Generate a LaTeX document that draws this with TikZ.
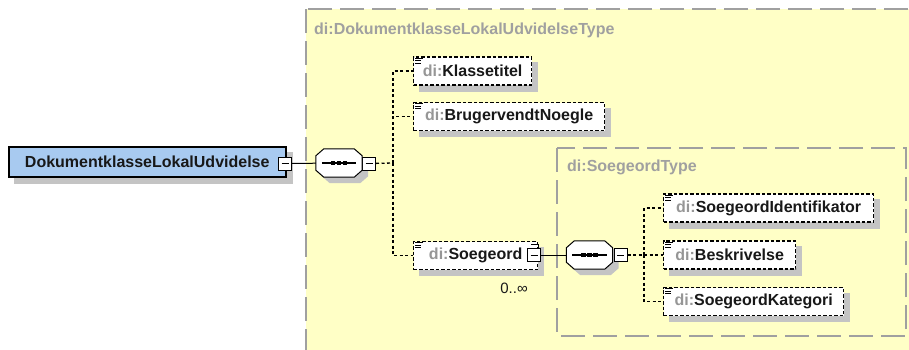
\documentclass[tikz,border=0pt]{standalone}
\usepackage{fontspec}
\setmainfont{Liberation Sans}
\usetikzlibrary{
    positioning
}
\pgfdeclarelayer{bg}
\pgfdeclarelayer{shade}
\pgfsetlayers{bg,shade,main}
\definecolor{typebg}{RGB}{255,255,198}
\definecolor{typegray}{RGB}{160,160,160}
\definecolor{rootblue}{RGB}{168,202,240}
\definecolor{shadowgray}{RGB}{196,196,196}
\definecolor{prefixgray}{RGB}{150,150,150}
\definecolor{namedark}{RGB}{24,24,24}
\newcommand{\pre}[1]{{\color{prefixgray}#1}}
\newcommand{\octpath}[3]{([shift={({8+#2},{#3})}]#1.north west) -- ([shift={({-8+#2},{#3})}]#1.north east)
    -- ([shift={({#2},{7+#3})}]#1.north east) -- ([shift={({#2},{-7+#3})}]#1.south east)
    -- ([shift={({-8+#2},{#3})}]#1.south east) -- ([shift={({8+#2},{#3})}]#1.south west)
    -- ([shift={({#2},{-7+#3})}]#1.south west) -- ([shift={({#2},{7+#3})}]#1.north west) -- cycle}

\begin{document}
\begin{tikzpicture}[x=1pt, y=-1pt,
    font=\fontsize{16}{19}\selectfont\bfseries,
    typebox/.style={draw=typegray, line width=1.6pt, dash pattern=on 24pt off 8pt, fill=typebg},
    typetitle/.style={anchor=west, inner sep=0, text=typegray},
    rootelem/.style={draw, line width=1.5pt, fill=rootblue, minimum height=30, anchor=west, inner sep=0, text=namedark},
    childelem/.style={draw, line width=1.3pt, dash pattern=on 3.5pt off 2pt, fill=white, minimum height=28, anchor=west, inner sep=0, text=namedark},
    seqbox/.style={rectangle, minimum width=46, minimum height=28, inner sep=0},
    minusbox/.style={draw, line width=1pt, fill=white, minimum width=13, minimum height=13, inner sep=0,
        path picture={
            \draw[line width=1pt] ([xshift=3pt]path picture bounding box.west) -- ([xshift=-3pt]path picture bounding box.east);
        }},
    link/.style={line width=1pt},
    optlink/.style={line width=1.3pt, dash pattern=on 3pt off 2.5pt}
]
\useasboundingbox (0,0) rectangle (909,349);
\begin{pgfonlayer}{bg}
\draw[typebox] (306,9) rectangle (940,380);
\draw[typebox] (557,148) rectangle (906,336);
\end{pgfonlayer}
\node[typetitle] (outertitle) at (314,30) {di:DokumentklasseLokalUdvidelseType};
\node[typetitle] (innertitle) at (567,167) {di:SoegeordType};

\node[rootelem, minimum width=277] (root) at (8,162) {DokumentklasseLokalUdvidelse\hspace{8pt}};
\node[minusbox] (rootm) at (285,163.5) {};
\node[seqbox] (seqa) at (339,163) {};
\node[minusbox] (seqam) at (369,163.5) {};
\coordinate (busa) at (393,163);

\node[childelem, minimum width=118] (klasse) at (413,71) {\pre{di:}Klassetitel};
\node[childelem, minimum width=191] (bruger) at (413,116.5) {\pre{di:}BrugervendtNoegle};
\node[childelem, minimum width=124] (soeg) at (413,255.5) {\pre{di:}Soegeord\hspace{12pt}};
\node[minusbox] (soegm) at (534,255) {};
\node[font=\fontsize{15}{17}\selectfont, text=namedark, inner sep=0] (mult) at (514,288) {0..∞};

\node[seqbox] (seqb) at (589.5,255) {};
\node[minusbox] (seqbm) at (620.5,255) {};
\coordinate (busb) at (644,255);

\node[childelem, minimum width=210] (ident) at (663,208) {\pre{di:}SoegeordIdentifikator};
\node[childelem, minimum width=132] (beskr) at (663,255) {\pre{di:}Beskrivelse};
\node[childelem, minimum width=180] (kateg) at (663,301.5) {\pre{di:}SoegeordKategori};

\begin{pgfonlayer}{shade}
\foreach \n in {root, klasse, bruger, soeg, ident, beskr, kateg}
    \fill[shadowgray] ([shift={(6,6)}]\n.north west) rectangle ([shift={(6,6)}]\n.south east);
\foreach \s in {seqa, seqb}
    \fill[shadowgray] \octpath{\s}{6}{6};
\end{pgfonlayer}

\foreach \s in {seqa, seqb} {
    \draw[line width=1pt, fill=white] \octpath{\s}{0}{0};
    \draw[line width=1.2pt] ([shift={(6,0)}]\s.west) -- ([shift={(-6,0)}]\s.east);
    \foreach \dx in {-6,0,6}
        \fill ([shift={(\dx,0)}]\s.center) +(-2.2,-2.2) rectangle +(2.2,2.2);
}

\draw[link] (rootm) -- (seqa);
\draw[optlink] (seqam) -- (busa);
\draw[optlink] (busa) |- (klasse.west);
\draw[optlink] (busa) |- (bruger.west);
\draw[optlink] (busa) |- (soeg.west);
\draw[link] (soegm) -- (seqb);
\draw[optlink] (seqbm) -- (busb);
\draw[optlink] (busb) |- (ident.west);
\draw[optlink] (busb) -- (beskr.west);
\draw[optlink] (busb) |- (kateg.west);

\draw[line width=0.8pt] ([xshift=-3pt]soegm.north) ++(0,-4) -- ++(7,0) -- ++(0,4);
\foreach \n in {klasse, bruger, soeg, ident, beskr, kateg}
    \draw[line width=0.9pt] ([shift={(2,2)}]\n.north west) -- ++(8,0)
        ([shift={(2,4.5)}]\n.north west) -- ++(6,0)
        ([shift={(2,7)}]\n.north west) -- ++(6,0);
\end{tikzpicture}
\end{document}
